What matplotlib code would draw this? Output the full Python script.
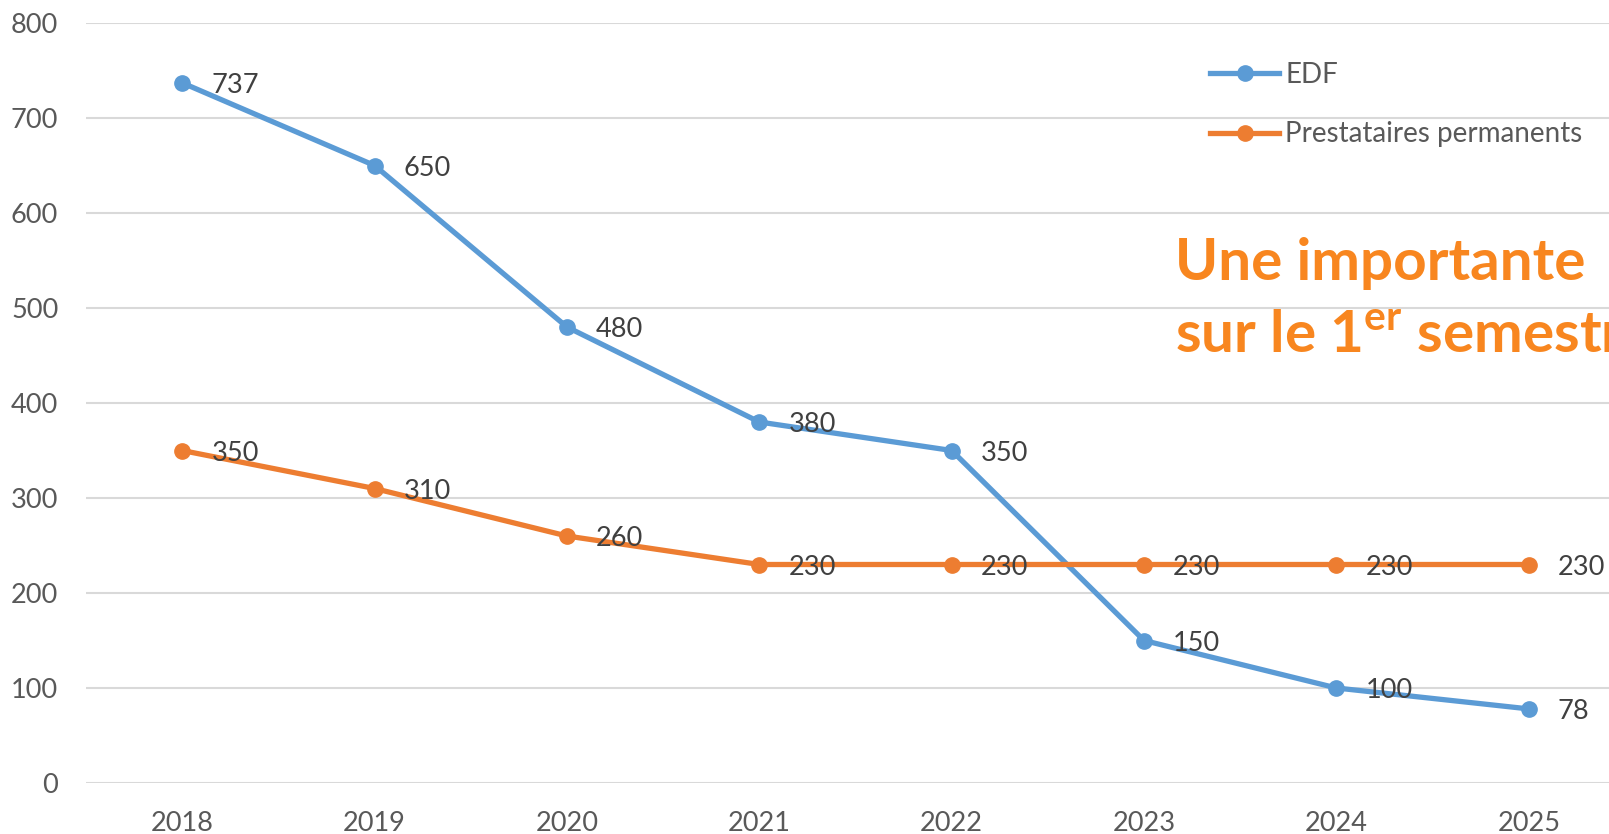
import matplotlib.pyplot as plt
import numpy as np

annees = ["2018", "2019", "2020", "2021", "2022", "2023", "2024", "2025"]
edf = [737, 650, 480, 380, 350, 150, 100, 78]
prestataires = [350, 310, 260, 230, 230, 230, 230, 230]
series_noms = ["EDF", "Prestataires permanents"]
yticks = [0, 100, 200, 300, 400, 500, 600, 700, 800]

bleu = "#5B9BD5"
orange = "#ED7D31"

plt.rcParams["font.family"] = ["Lato", "DejaVu Sans"]
plt.rcParams["mathtext.fontset"] = "custom"
plt.rcParams["mathtext.bf"] = "Lato:bold"
plt.rcParams["mathtext.rm"] = "Lato:bold"

W, H = 1609, 834
fig = plt.figure(figsize=(W / 100, H / 100), dpi=100)
# axes run past the right edge, like the cropped original
ax = fig.add_axes([86 / W, 51 / H, (1625 - 86) / W, (783 - 23) / H])

x = np.arange(len(annees))
ax.plot(x, edf, color=bleu, lw=3.8, marker="o", ms=11, label=series_noms[0], zorder=3)
ax.plot(x, prestataires, color=orange, lw=3.8, marker="o", ms=11, label=series_noms[1], zorder=3)

for serie in (edf, prestataires):
    for i, v in enumerate(serie):
        ax.annotate(str(v), (i, v), xytext=(21, -2), textcoords="offset points",
                    va="center", ha="left", fontsize=19.5, color="#404040", zorder=4)

ax.set_xlim(-0.5, len(annees) - 0.5)
ax.set_ylim(0, 800)
ax.set_xticks(x, annees)
ax.set_yticks(yticks)
ax.tick_params(length=0, labelsize=19.5, labelcolor="#595959")
ax.tick_params(axis="x", pad=20)
ax.tick_params(axis="y", pad=20)
ax.grid(axis="y", color="#D9D9D9", lw=1.5)
ax.set_axisbelow(True)
for s in ax.spines.values():
    s.set_visible(False)

leg = fig.legend(loc="upper left", bbox_to_anchor=(1210 / W, (H - 78 + 16) / H),
                 frameon=False, fontsize=20, handlelength=2.5, handletextpad=0.2,
                 labelspacing=1.2, borderpad=0, borderaxespad=0)
for t in leg.get_texts():
    t.set_color("#595959")

titre = "#F8861F"
fig.text(1175 / W, 1 - 280 / H, "Une importante", fontsize=42,
         fontweight="bold", color=titre, va="baseline")
fig.text(1175 / W, 1 - 353 / H, r"sur le 1$^{\mathbf{er}}$ semestre", fontsize=42,
         fontweight="bold", color=titre, va="baseline")

fig.savefig("out.png", dpi=100)
